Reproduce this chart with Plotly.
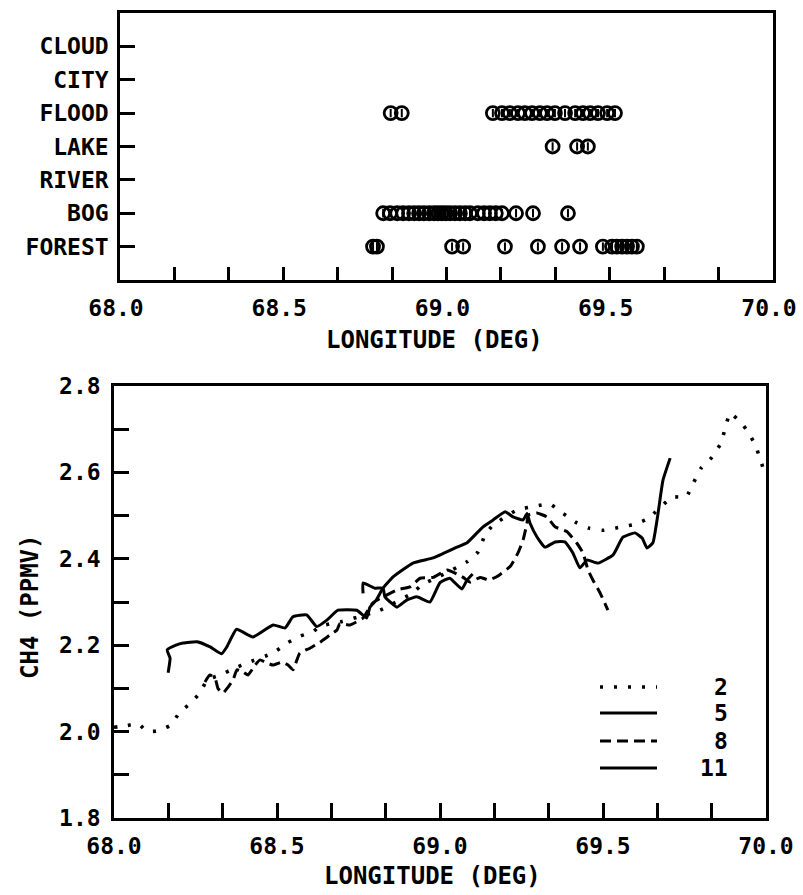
import plotly.graph_objects as go

# ---------------- DATA ----------------
categories = ["FOREST", "BOG", "RIVER", "LAKE", "FLOOD", "CITY", "CLOUD"]
cat_lons = {
    "FOREST": [68.775, 68.787, 69.017, 69.051, 69.179, 69.280, 69.354, 69.409, 69.479,
               69.507, 69.522, 69.538, 69.553, 69.568, 69.583],
    "BOG": [68.806, 68.827, 68.849, 68.867, 68.885, 68.901, 68.916, 68.931, 68.947, 68.962,
            68.974, 68.986, 68.998, 69.011, 69.026, 69.041, 69.057, 69.072, 69.096, 69.115,
            69.133, 69.151, 69.170, 69.213, 69.265, 69.372],
    "RIVER": [],
    "LAKE": [69.325, 69.400, 69.433],
    "FLOOD": [68.829, 68.863, 69.142, 69.170, 69.194, 69.219, 69.240, 69.262, 69.286,
              69.308, 69.332, 69.363, 69.394, 69.418, 69.440, 69.464, 69.492, 69.516],
    "CITY": [],
    "CLOUD": [],
}

x_ticks = [68.0, 68.5, 69.0, 69.5, 70.0]
y_ticks = [1.8, 2.0, 2.2, 2.4, 2.6, 2.8]

s2_lon = [68.000, 68.034, 68.075, 68.100, 68.130, 68.174, 68.200, 68.235, 68.264, 68.286,
          68.325, 68.371, 68.408, 68.488, 68.531, 68.571, 68.610, 68.632, 68.700, 68.816,
          68.914, 68.945, 69.000, 69.083, 69.117, 69.138, 69.163, 69.236, 69.294, 69.337,
          69.366, 69.393, 69.420, 69.457, 69.500, 69.558, 69.598, 69.640, 69.712, 69.755,
          69.779, 69.801, 69.834, 69.862, 69.874, 69.890, 69.925, 69.948, 69.969, 69.985,
          70.000]
s2_ch4 = [2.010, 2.013, 2.018, 2.001, 2.001, 2.015, 2.043, 2.066, 2.090, 2.120,
          2.131, 2.147, 2.159, 2.182, 2.205, 2.221, 2.231, 2.244, 2.255, 2.281,
          2.320, 2.340, 2.360, 2.393, 2.416, 2.455, 2.478, 2.513, 2.522, 2.527,
          2.511, 2.497, 2.483, 2.471, 2.466, 2.474, 2.480, 2.494, 2.543, 2.543,
          2.578, 2.610, 2.635, 2.668, 2.700, 2.737, 2.714, 2.690, 2.660, 2.624,
          2.590]

s5_lon = [68.764, 68.764, 68.800, 68.825, 68.831, 68.847, 68.868, 68.899, 68.929, 68.969,
          69.000, 69.030, 69.067, 69.083, 69.100]
s5_ch4 = [2.320, 2.344, 2.332, 2.332, 2.312, 2.300, 2.288, 2.305, 2.312, 2.300,
          2.345, 2.355, 2.330, 2.351, 2.365]

s8_lon = [68.279, 68.294, 68.310, 68.319, 68.334, 68.350, 68.365, 68.377, 68.396, 68.411,
          68.433, 68.448, 68.469, 68.488, 68.515, 68.534, 68.549, 68.570, 68.601, 68.632,
          68.663, 68.684, 68.693, 68.724, 68.764, 68.779, 68.794, 68.868, 68.908, 68.939,
          68.979, 69.022, 69.071, 69.092, 69.123, 69.150, 69.175, 69.215, 69.239, 69.255,
          69.267, 69.270, 69.297, 69.328, 69.353, 69.389, 69.420, 69.439, 69.454, 69.469,
          69.491, 69.515]
s8_ch4 = [2.115, 2.131, 2.124, 2.100, 2.089, 2.103, 2.119, 2.143, 2.138, 2.131,
          2.154, 2.166, 2.159, 2.154, 2.161, 2.154, 2.143, 2.182, 2.193, 2.207,
          2.224, 2.235, 2.250, 2.247, 2.263, 2.281, 2.298, 2.328, 2.335, 2.355,
          2.357, 2.374, 2.357, 2.346, 2.357, 2.351, 2.359, 2.382, 2.413, 2.444,
          2.483, 2.501, 2.506, 2.497, 2.474, 2.463, 2.436, 2.413, 2.374, 2.351,
          2.321, 2.281]

s11_lon = [68.166, 68.172, 68.163, 68.190, 68.212, 68.255, 68.295, 68.330, 68.346, 68.376,
           68.426, 68.488, 68.525, 68.549, 68.591, 68.622, 68.653, 68.687, 68.745, 68.775,
           68.785, 68.805, 68.825, 68.856, 68.917, 68.979, 69.052, 69.083, 69.132, 69.163,
           69.200, 69.224, 69.255, 69.267, 69.276, 69.298, 69.322, 69.353, 69.383, 69.408,
           69.429, 69.451, 69.485, 69.531, 69.561, 69.598, 69.620, 69.635, 69.653, 69.669,
           69.684, 69.706]
s11_ch4 = [2.136, 2.170, 2.189, 2.200, 2.205, 2.208, 2.196, 2.180, 2.196, 2.237,
           2.219, 2.247, 2.240, 2.266, 2.270, 2.243, 2.258, 2.281, 2.281, 2.263,
           2.288, 2.305, 2.332, 2.358, 2.390, 2.402, 2.427, 2.437, 2.474, 2.490,
           2.509, 2.497, 2.490, 2.505, 2.483, 2.450, 2.427, 2.439, 2.439, 2.413,
           2.379, 2.397, 2.390, 2.409, 2.450, 2.460, 2.448, 2.425, 2.437, 2.506,
           2.582, 2.633]

series_names = ["2", "5", "8", "11"]
series_lon = [s2_lon, s5_lon, s8_lon, s11_lon]
series_ch4 = [s2_ch4, s5_ch4, s8_ch4, s11_ch4]
series_dash = ["3px,11px", "solid", "11px,6px", "solid"]

# ---------------- FIGURE ----------------
W, H = 803, 895
FONT = dict(family="DejaVu Sans Mono", size=23, color="black", weight="bold")
TFONT = dict(family="DejaVu Sans Mono", size=24, color="black", weight="bold")

def px(x):
    return x / W

def py(y):
    return 1 - y / H

fig = go.Figure()

cat_pos = {c: i + 1 for i, c in enumerate(categories)}
for c in categories:
    lons = cat_lons[c]
    if not lons:
        continue
    fig.add_trace(go.Scatter(
        x=lons, y=[cat_pos[c]] * len(lons), mode="markers",
        marker=dict(symbol="circle-open", size=13, color="black", line=dict(width=2.8, color="black")),
        xaxis="x", yaxis="y", showlegend=False, hoverinfo="skip"))
    fig.add_trace(go.Scatter(
        x=lons, y=[cat_pos[c]] * len(lons), mode="markers",
        marker=dict(symbol="line-ns", size=6, color="black", line=dict(width=2, color="black")),
        xaxis="x", yaxis="y", showlegend=False, hoverinfo="skip"))

for name, lx, ly, dash in zip(series_names, series_lon, series_ch4, series_dash):
    fig.add_trace(go.Scatter(
        x=lx, y=ly, mode="lines", name=name,
        line=dict(color="black", width=3 if dash != "3px,11px" else 3.6, dash=dash, shape="spline", smoothing=0.4),
        xaxis="x2", yaxis="y2", showlegend=False, hoverinfo="skip"))

axis_common = dict(showline=True, linecolor="black", linewidth=2.5, mirror=True,
                   showgrid=False, zeroline=False, ticks="inside", tickcolor="black",
                   tickwidth=2.5, tickfont=FONT, automargin=False)

fig.update_layout(
    width=W, height=H, margin=dict(l=0, r=0, t=0, b=0, autoexpand=False),
    paper_bgcolor="white", plot_bgcolor="white", showlegend=False,
    xaxis=dict(domain=[px(120), px(773)], range=[68, 70], anchor="y",
               tickvals=x_ticks, tickformat=".1f", ticklen=13, ticklabelshift=-4,
               ticklabelstandoff=6,
               minor=dict(tick0=68, dtick=1/6, ticks="inside", ticklen=13, tickwidth=2.5, tickcolor="black"),
               **axis_common),
    yaxis=dict(domain=[py(280), py(13)], range=[0, 8], anchor="x",
               tickvals=list(range(1, len(categories) + 1)), ticktext=categories,
               ticklen=15, ticklabelstandoff=4, **axis_common),
    xaxis2=dict(domain=[px(114), px(766)], range=[68, 70], anchor="y2",
                tickvals=x_ticks, tickformat=".1f", ticklen=15, ticklabelstandoff=6,
                minor=dict(tick0=68, dtick=1/6, ticks="inside", ticklen=15, tickwidth=2.5, tickcolor="black"),
                **axis_common),
    yaxis2=dict(domain=[py(818), py(386)], range=[1.8, 2.8], anchor="x2",
                tickvals=y_ticks, tickformat=".1f", ticklen=15, ticklabelstandoff=6,
                minor=dict(tick0=1.8, dtick=0.1, ticks="inside", ticklen=15, tickwidth=2.5, tickcolor="black"),
                **axis_common),
)

# axis titles
fig.add_annotation(text="LONGITUDE (DEG)", x=px(434), y=py(340), xref="paper", yref="paper",
                   showarrow=False, font=TFONT, xanchor="center", yanchor="middle")
fig.add_annotation(text="LONGITUDE (DEG)", x=px(432), y=py(876), xref="paper", yref="paper",
                   showarrow=False, font=TFONT, xanchor="center", yanchor="middle")
fig.add_annotation(text="CH4 (PPMV)", x=px(30), y=py(607), xref="paper", yref="paper",
                   showarrow=False, font=TFONT, textangle=-90, xanchor="center", yanchor="middle")

# legend (drawn manually)
leg_y = [687, 713, 741, 768]
for name, dash, yy in zip(series_names, series_dash, leg_y):
    fig.add_shape(type="line", xref="paper", yref="paper", x0=px(600), x1=px(657),
                  y0=py(yy), y1=py(yy),
                  line=dict(color="black", width=3 if dash != "3px,11px" else 3.6, dash=dash))
    fig.add_annotation(text=name, x=px(730), y=py(yy), xref="paper", yref="paper",
                       showarrow=False, font=FONT, xanchor="right", yanchor="middle")

fig.write_html("out.html", config={"displayModeBar": False},
               post_script="document.body.style.margin='0';document.body.style.padding='0';")
